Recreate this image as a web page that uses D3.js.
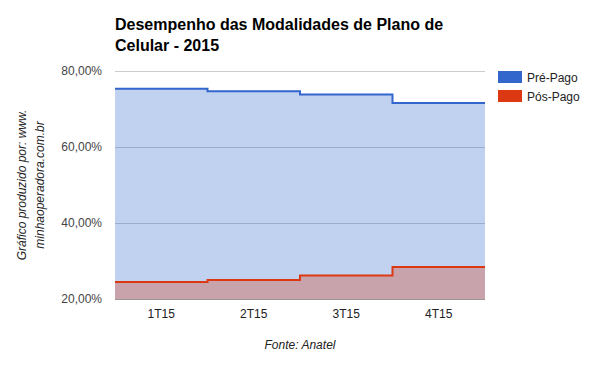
<!DOCTYPE html>
<html><head><meta charset="utf-8">
<script src="https://cdn.jsdelivr.net/npm/d3@7"></script>
<style>
body{margin:0;background:#fff;}
svg{font-family:"Liberation Sans",Arial,sans-serif;}
</style></head>
<body><svg id="c" width="600" height="371"></svg>
<script>
const categories = ["1T15","2T15","3T15","4T15"];
const prePago = [75.3, 74.7, 73.8, 71.6];
const posPago = [24.5, 25.0, 26.2, 28.4];
const yTicks = [20, 40, 60, 80];
const seriesNames = ["Pré-Pago","Pós-Pago"];
const colors = ["#3366cc","#dc3912"];

const svg = d3.select("#c");
const L = 115, R = 485, T = 71, B = 299;
const x = d3.scaleBand().domain(categories).range([L, R]).padding(0);
const y = d3.scaleLinear().domain([20, 80]).range([B, T]);

// gridlines
svg.append("g").selectAll("line").data(yTicks.slice(1)).join("line")
  .attr("x1", L).attr("x2", R).attr("y1", d => y(d)+0.5).attr("y2", d => y(d)+0.5)
  .attr("stroke", "#cccccc").attr("stroke-width", 1);

function pts(vals){
  const p = vals.map((v,i)=>[x(categories[i]), v]);
  p.push([x(categories[categories.length-1]) + x.bandwidth(), vals[vals.length-1]]);
  return p;
}
const area = d3.area().x(d=>d[0]).y0(y(20)).y1(d=>y(d[1])).curve(d3.curveStepAfter);
const line = d3.line().x(d=>d[0]).y(d=>y(d[1])).curve(d3.curveStepAfter);

[prePago, posPago].forEach((vals, k) => {
  svg.append("path").attr("d", area(pts(vals))).attr("fill", colors[k]).attr("fill-opacity", 0.3);
});
[prePago, posPago].forEach((vals, k) => {
  svg.append("path").attr("d", line(pts(vals))).attr("fill", "none")
    .attr("stroke", colors[k]).attr("stroke-width", 2);
});

// baseline
svg.append("line").attr("x1", L).attr("x2", R).attr("y1", B+0.5).attr("y2", B+0.5)
  .attr("stroke", "#999999").attr("stroke-width", 1);

// y axis
const yAxis = d3.axisLeft(y).tickValues(yTicks).tickSize(0).tickPadding(13)
  .tickFormat(d => d.toFixed(2).replace(".", ",") + "%");
const ga = svg.append("g").attr("transform", `translate(${L},0)`).call(yAxis);
ga.select(".domain").remove();
ga.selectAll("text").attr("font-size", 12).attr("fill", "#444").attr("font-family", "Liberation Sans, Arial, sans-serif");

// x axis
const xAxis = d3.axisBottom(x).tickSize(0).tickPadding(10);
const gx = svg.append("g").attr("transform", `translate(0,${B})`).call(xAxis);
gx.select(".domain").remove();
gx.selectAll("text").attr("font-size", 12).attr("fill", "#222").attr("font-family", "Liberation Sans, Arial, sans-serif");

// title
const title = svg.append("text").attr("x", L).attr("font-size", 16).attr("font-weight", "bold").attr("fill", "#000");
title.append("tspan").attr("x", L).attr("y", 30).text("Desempenho das Modalidades de Plano de");
title.append("tspan").attr("x", L).attr("y", 51).text("Celular - 2015");

// y axis title
const yt = svg.append("text").attr("transform", "translate(0,185) rotate(-90)")
  .attr("text-anchor", "middle").attr("font-size", 12).attr("font-style", "italic").attr("fill", "#222");
yt.append("tspan").attr("x", 0).attr("y", 26).text("Gráfico produzido por: www.");
yt.append("tspan").attr("x", 0).attr("y", 44).text("minhaoperadora.com.br");

// footer
svg.append("text").attr("x", 300).attr("y", 349).attr("text-anchor", "middle")
  .attr("font-size", 12).attr("font-style", "italic").attr("fill", "#222").text("Fonte: Anatel");

// legend
const lg = svg.append("g").selectAll("g").data(seriesNames).join("g")
  .attr("transform", (d,i) => `translate(498,${71 + i*19})`);
lg.append("rect").attr("width", 24).attr("height", 12).attr("fill", (d,i)=>colors[i]);
lg.append("text").attr("x", 29).attr("y", 11).attr("font-size", 12).attr("fill", "#222").text(d=>d);
</script></body></html>
